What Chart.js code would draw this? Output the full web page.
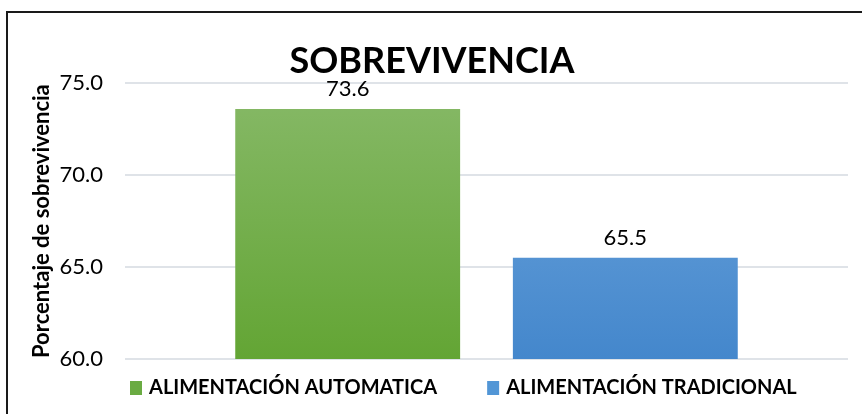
<!DOCTYPE html>
<html>
<head>
<meta charset="utf-8">
<script src="https://cdn.jsdelivr.net/npm/chart.js@4"></script>
<style>
  html, body { margin: 0; padding: 0; background: #fff; }
  #wrap { position: relative; width: 862px; height: 414px; overflow: hidden; }
  #frame {
    position: absolute; left: 6px; top: 11px; width: 900px; height: 500px;
    border: 2px solid #1a1a1a; pointer-events: none;
  }
</style>
</head>
<body>
<div id="wrap">
  <canvas id="chart" width="862" height="414"></canvas>
  <div id="frame"></div>
</div>
<script>
// Datos
const categories = ['']
const seriesNames = ['ALIMENTACIÓN AUTOMATICA', 'ALIMENTACIÓN TRADICIONAL']
const automatica = [73.6]
const tradicional = [65.5]
const yTicks = [60, 65, 70, 75]

const fontFamily = 'Lato, "Open Sans", sans-serif'
const legendColors = ['#6aab42', '#5296d6']

// Degradado vertical para cada barra
function gradient(ctx, top, bottom) {
  const chart = ctx.chart
  const area = chart.chartArea
  if (!area) return bottom
  const g = chart.ctx.createLinearGradient(0, area.top, 0, area.bottom)
  g.addColorStop(0, top)
  g.addColorStop(1, bottom)
  return g
}

// Etiquetas de valor encima de cada barra
const valueLabels = {
  id: 'valueLabels',
  afterDatasetsDraw(chart) {
    const { ctx } = chart
    ctx.save()
    ctx.font = '22px ' + fontFamily
    ctx.fillStyle = '#000'
    ctx.textAlign = 'center'
    ctx.textBaseline = 'alphabetic'
    chart.data.datasets.forEach((ds, i) => {
      chart.getDatasetMeta(i).data.forEach((bar, j) => {
        ctx.fillText(ds.data[j].toFixed(1), bar.x, bar.y - 13)
      })
    })
    ctx.restore()
  },
}

// Leyenda inferior (separación amplia entre elementos, como en Excel)
const bottomLegend = {
  id: 'bottomLegend',
  afterDraw(chart) {
    const { ctx, chartArea } = chart
    ctx.save()
    ctx.font = 'bold 20px ' + fontFamily
    ctx.textBaseline = 'middle'
    let x = chartArea.left + 5
    const y = chartArea.bottom + 29
    chart.data.datasets.forEach((ds, i) => {
      ctx.fillStyle = legendColors[i]
      ctx.fillRect(x, y - 7, 12, 14)
      x += 19
      ctx.fillStyle = '#000'
      ctx.fillText(ds.label, x, y)
      x += ctx.measureText(ds.label).width + 50
    })
    ctx.restore()
  },
}

new Chart(document.getElementById('chart'), {
  type: 'bar',
  data: {
    labels: categories,
    datasets: [
      {
        label: seriesNames[0],
        data: automatica,
        backgroundColor: (ctx) => gradient(ctx, '#87b968', '#63a534'),
      },
      {
        label: seriesNames[1],
        data: tradicional,
        backgroundColor: (ctx) => gradient(ctx, '#70a7dd', '#4487cc'),
      },
    ],
  },
  options: {
    responsive: false,
    animation: false,
    categoryPercentage: 0.768,
    barPercentage: 0.81,
    layout: { padding: { left: 16, right: 14, top: 0, bottom: 47 } },
    plugins: {
      title: {
        display: true,
        text: 'SOBREVIVENCIA',
        color: '#000',
        font: { family: fontFamily, size: 36, weight: 'bold' },
        padding: { top: 40, bottom: 0 },
      },
      legend: { display: false },
      tooltip: { enabled: false },
    },
    scales: {
      x: {
        ticks: { display: false },
        grid: { display: false },
        border: { display: false },
      },
      y: {
        min: yTicks[0],
        max: yTicks[yTicks.length - 1],
        afterBuildTicks(scale) {
          scale.ticks = yTicks.map((v) => ({ value: v }))
        },
        afterFit(scale) {
          scale.width = 109
        },
        ticks: {
          color: '#000',
          padding: 22,
          font: { family: fontFamily, size: 22 },
          callback: (v) => Number(v).toFixed(1),
        },
        grid: { color: '#dfe3e8', lineWidth: 2, drawTicks: false },
        border: { display: false },
        title: {
          display: true,
          text: 'Porcentaje de sobrevivencia',
          color: '#000',
          font: { family: fontFamily, size: 22, weight: 'bold' },
          padding: { top: 13, bottom: 0 },
        },
      },
    },
  },
  plugins: [valueLabels, bottomLegend],
})
</script>
</body>
</html>
